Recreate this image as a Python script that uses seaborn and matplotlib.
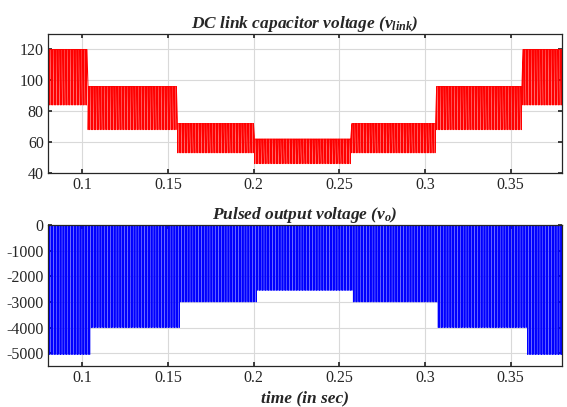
import numpy as np
import pandas as pd
import seaborn as sns
import matplotlib
matplotlib.use('Agg')
import matplotlib.pyplot as plt

# segment edges (s) and levels
seg_edges = [0.08, 0.103, 0.155, 0.200, 0.257, 0.306, 0.357, 0.38]
vlink_max = [120, 96, 72, 62, 72, 96, 120]
vlink_min = [84, 68, 53, 46, 53, 68, 84]

vo_edges = [0.08, 0.105, 0.157, 0.202, 0.258, 0.307, 0.359, 0.38]
vo_depth = [-5050, -4000, -3000, -2550, -3000, -4000, -5050]

pulse_period = 0.0009

xticks = [0.1, 0.15, 0.2, 0.25, 0.3, 0.35]
xtick_labels = ['0.1', '0.15', '0.2', '0.25', '0.3', '0.35']
top_yticks = [40, 60, 80, 100, 120]
bot_yticks = [0, -1000, -2000, -3000, -4000, -5000]


def level_at(t, edges, levels):
    i = np.searchsorted(edges, t, side='right') - 1
    return levels[min(max(i, 0), len(levels) - 1)]


# build waveforms point by point from the pulse times
pulse_t = np.arange(seg_edges[0], seg_edges[-1], pulse_period)
tt, vv = [], []
for t in pulse_t:
    hi = level_at(t, seg_edges, vlink_max)
    lo = level_at(t, seg_edges, vlink_min)
    tt += [t, t + 1e-6, t + 0.3 * pulse_period]
    vv += [hi, lo, hi]
vlink = pd.DataFrame({'t': tt, 'v': vv})

tt, vv = [], []
for t in pulse_t:
    d = level_at(t, vo_edges, vo_depth)
    tt += [t, t + 1e-6, t + 0.15 * pulse_period, t + 0.15 * pulse_period + 1e-6]
    vv += [0, d, d, 0]
vo = pd.DataFrame({'t': tt, 'v': vv})

sns.set_theme(style='whitegrid')
plt.rcParams['font.family'] = ['Liberation Serif', 'DejaVu Serif']
plt.rcParams['mathtext.fontset'] = 'custom'
plt.rcParams['mathtext.it'] = 'Liberation Serif:bold:italic'
plt.rcParams['mathtext.rm'] = 'Liberation Serif:bold:italic'
plt.rcParams['axes.unicode_minus'] = False

fig = plt.figure(figsize=(5.67, 4.07), dpi=100)
ax1 = fig.add_axes([48 / 567, 1 - 173 / 407, 514 / 567, 139 / 407])
ax2 = fig.add_axes([48 / 567, 1 - 366 / 407, 514 / 567, 141 / 407])

sns.lineplot(data=vlink, x='t', y='v', ax=ax1, color='#ff0000', lw=0.6,
             sort=False, estimator=None)
sns.lineplot(data=vo, x='t', y='v', ax=ax2, color='#0000ff', lw=0.6,
             sort=False, estimator=None)

ax1.set_ylim(40, 130)
ax1.set_yticks(top_yticks)
ax2.set_ylim(-5500, 0)
ax2.set_yticks(bot_yticks)

for ax in (ax1, ax2):
    ax.set_xlim(0.08, 0.38)
    ax.set_xticks(xticks)
    ax.set_xticklabels(xtick_labels)
    ax.set_xlabel('')
    ax.set_ylabel('')
    ax.grid(True, color='#d9d9d9', lw=0.8)
    ax.tick_params(direction='in', length=3, labelsize=11.5, colors='#262626',
                   top=True, right=True, left=True, bottom=True, pad=3)
    for s in ax.spines.values():
        s.set_color('#262626')
        s.set_linewidth(0.9)

ax1.set_title(r'DC link capacitor voltage ($v_{link}$)', fontsize=12.5,
              fontweight='bold', fontstyle='italic', pad=4)
ax2.set_title(r'Pulsed output voltage ($v_o$)', fontsize=12.5,
              fontweight='bold', fontstyle='italic', pad=4)
ax2.set_xlabel('time (in sec)', fontsize=12.5, fontweight='bold',
               fontstyle='italic', labelpad=3)

fig.savefig('out.png', dpi=100)
